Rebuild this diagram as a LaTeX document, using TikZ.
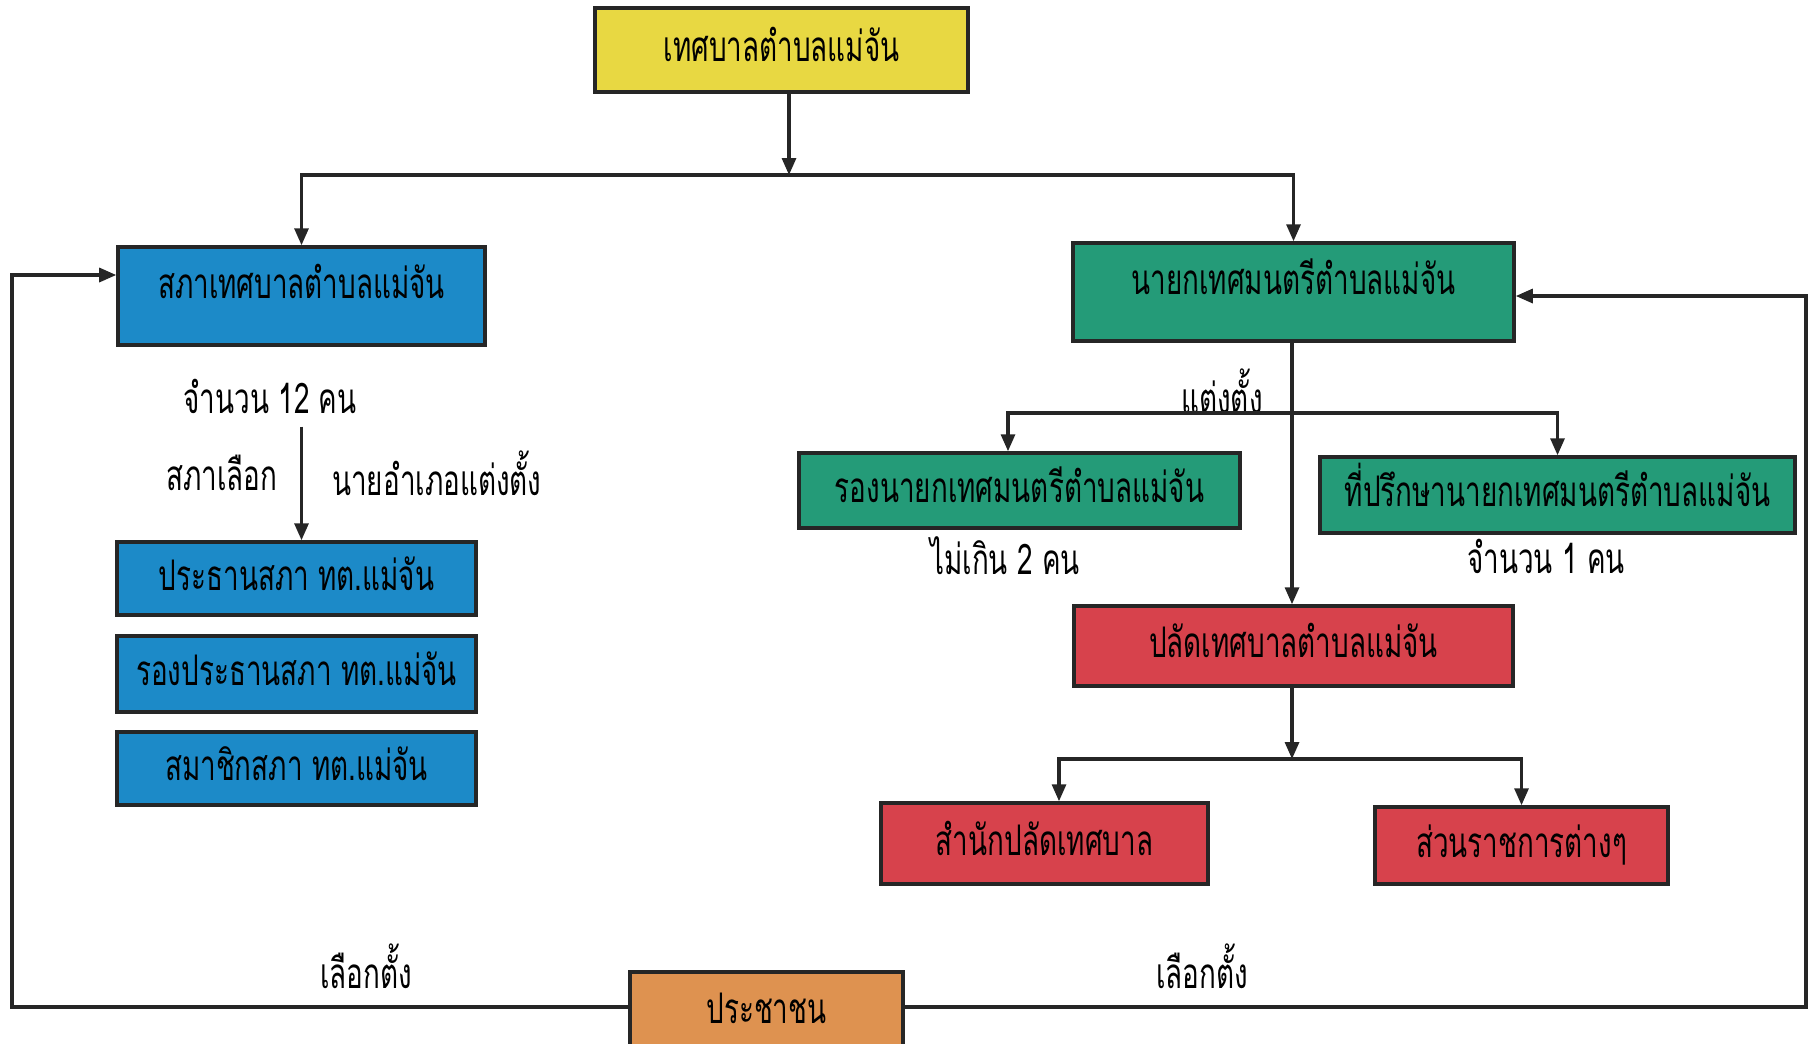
\documentclass[tikz,border=0pt]{standalone}
\usepackage{fontspec}
\setmainfont[Script=Thai, FakeStretch=0.66]{Loma}
\usetikzlibrary{arrows.meta}
\definecolor{cyellow}{RGB}{232,216,66}
\definecolor{cblue}{RGB}{28,138,200}
\definecolor{cgreen}{RGB}{36,155,120}
\definecolor{cred}{RGB}{215,66,76}
\definecolor{corange}{RGB}{222,146,80}
\begin{document}
\begin{tikzpicture}[x=0.1mm, y=-0.1mm, line width=0.9pt, font=\fontsize{12}{14}\selectfont,
  org/.style = {draw=black!85, line width=1pt, rectangle, inner sep=0pt, text height=2.6mm, text depth=0.25mm},
  high/.style = {text depth=2.2mm},
  arr/.style = {draw=black!85, -{Triangle[length=1.7mm, width=1.4mm]}}]
\useasboundingbox (0,0) rectangle (1812,1043);

\node[org, fill=cyellow, minimum width=37.3mm, minimum height=8.4mm] (muni) at (781.5,50) {เทศบาลตำบลแม่จัน};
\node[org, high, fill=cblue, minimum width=36.7mm, minimum height=9.8mm] (council) at (301.5,296) {สภาเทศบาลตำบลแม่จัน};
\node[org, high, fill=cgreen, minimum width=44.1mm, minimum height=9.8mm] (mayor) at (1293.5,292) {นายกเทศมนตรีตำบลแม่จัน};
\node[org, fill=cgreen, minimum width=44.1mm, minimum height=7.5mm] (deputy) at (1019.5,490.5) {รองนายกเทศมนตรีตำบลแม่จัน};
\node[org, fill=cgreen, minimum width=47.5mm, minimum height=7.6mm] (advisor) at (1557.5,495) {ที่ปรึกษานายกเทศมนตรีตำบลแม่จัน};
\node[org, fill=cred, minimum width=43.9mm, minimum height=8mm] (clerk) at (1293.5,646) {ปลัดเทศบาลตำบลแม่จัน};
\node[org, fill=cred, minimum width=32.7mm, minimum height=8.1mm] (office) at (1044.5,843.5) {สำนักปลัดเทศบาล};
\node[org, fill=cred, minimum width=29.3mm, minimum height=7.7mm] (divs) at (1521.5,845.5) {ส่วนราชการต่างๆ};
\node[org, fill=cblue, minimum width=35.9mm, minimum height=7.3mm] (chair) at (296.5,578.5) {ประธานสภา ทต.แม่จัน};
\node[org, fill=cblue, minimum width=35.9mm, minimum height=7.6mm] (vchair) at (296.5,674) {รองประธานสภา ทต.แม่จัน};
\node[org, fill=cblue, minimum width=35.9mm, minimum height=7.3mm] (member) at (296.5,768.5) {สมาชิกสภา ทต.แม่จัน};
\node[org, fill=corange, minimum width=27.3mm, minimum height=8mm] (people) at (766.5,1012) {ประชาชน};

% labels
\node (n12) at (270,396) {จำนวน 12 คน};
\node (elect) at (222,473) {สภาเลือก};
\node[anchor=west] (appoint) at (319,473) {นายอำเภอแต่งตั้ง};
\node (appt) at (1222,391) {แต่งตั้ง};
\node (n2) at (1005,556) {ไม่เกิน 2 คน};
\node (n1) at (1546,556) {จำนวน 1 คน};
\node (voteL) at (366,966) {เลือกตั้ง};
\node (voteR) at (1202,966) {เลือกตั้ง};

\coordinate (j1) at (789,175);
\coordinate (j2) at (1292,413);
\coordinate (j3) at (1292,759);
\coordinate (lb) at (12,1007);
\coordinate (lt) at (12,275);
\coordinate (rb) at (1806,1007);
\coordinate (rt) at (1806,296);

\draw[arr] (muni.south -| j1) -- (j1);
\draw[arr] (j1) -| (council);
\draw[arr] (j1) -| (mayor);
\draw[arr] (n12.south -| council.south) -- (council.south |- chair.north);
\draw[arr] (mayor.south -| j2) -- (j2 |- clerk.north);
\draw[arr] (j2) -| ([xshift=-1.15mm]deputy.north);
\draw[arr] (j2) -| (advisor);
\draw[arr] (clerk.south -| j3) -- (j3);
\draw[arr] (j3) -| ([xshift=1.45mm]office.north);
\draw[arr] (j3) -| (divs);
\draw[arr] (people.west |- lb) -- (lb) -- (lt) -- (lt -| council.west);
\draw[arr] (people.east |- rb) -- (rb) -- (rt) -- (rt -| mayor.east);
\end{tikzpicture}
\end{document}
